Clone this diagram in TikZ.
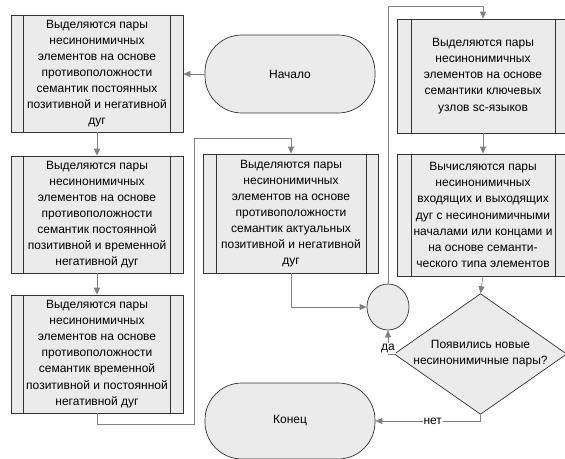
\documentclass[tikz,border=0pt]{standalone}
\usepackage{fontspec}
\setmainfont{Liberation Sans}
\usetikzlibrary{shapes.geometric,arrows.meta}
\definecolor{boxfill}{HTML}{EBEBEB}
\definecolor{edgecol}{HTML}{333333}
\definecolor{conncol}{HTML}{808080}
\begin{document}
\begin{tikzpicture}[x=1pt,y=-1pt,
  base/.style={draw=edgecol, fill=boxfill, line width=0.7pt, inner sep=0pt, align=center,
    font=\fontsize{12}{16.1}\selectfont},
  proc/.style={base, rectangle, minimum width=172pt, minimum height=117pt,
    path picture={\draw[edgecol, line width=0.7pt]
      ([xshift=12.5pt]path picture bounding box.north west) -- ([xshift=12.5pt]path picture bounding box.south west)
      ([xshift=-12.5pt]path picture bounding box.north east) -- ([xshift=-12.5pt]path picture bounding box.south east);}},
  term/.style={base, rectangle, rounded corners=37pt, minimum width=170pt},
  decision/.style={base, diamond, shape aspect=1.43, minimum width=169pt, minimum height=118pt},
  joint/.style={base, ellipse, minimum width=42pt, minimum height=46pt},
  conn/.style={draw=conncol, line width=0.7pt, -{Triangle[length=7pt,width=6pt]}},
  lab/.style={fill=white, inner sep=1pt, font=\fontsize{12}{14}\selectfont}
]
\clip (0,0) rectangle (565,458);
\fill[white] (0,0) rectangle (565,458);

\node[proc] (b1) at (97,73.5) {Выделяются пары\\несинонимичных\\элементов на основе\\противоположности\\семантик постоянных\\позитивной и негативной\\дуг};
\node[proc] (b2) at (97,214.5) {Выделяются пары\\несинонимичных\\элементов на основе\\противоположности\\семантик постоянной\\позитивной и временной\\негативной дуг};
\node[proc, minimum height=118pt] (b3) at (97,354) {Выделяются пары\\несинонимичных\\элементов на основе\\противоположности\\семантик временной\\позитивной и постоянной\\негативной дуг};
\node[proc, minimum width=175pt, minimum height=119pt] (b4) at (291,213.5) {Выделяются пары\\несинонимичных\\элементов на основе\\противоположности\\семантик актуальных\\позитивной и негативной\\дуг};
\node[proc, minimum height=114pt, path picture={\draw[edgecol, line width=0.7pt]
      ([xshift=14pt]path picture bounding box.north west) -- ([xshift=14pt]path picture bounding box.south west)
      ([xshift=-14pt]path picture bounding box.north east) -- ([xshift=-14pt]path picture bounding box.south east);}] (b5) at (483,76) {Выделяются пары\\несинонимичных\\элементов на основе\\семантики ключевых\\узлов sc-языков};
\node[proc, minimum height=122pt, path picture={\draw[edgecol, line width=0.7pt]
      ([xshift=14pt]path picture bounding box.north west) -- ([xshift=14pt]path picture bounding box.south west)
      ([xshift=-14pt]path picture bounding box.north east) -- ([xshift=-14pt]path picture bounding box.south east);}] (b6) at (483,215) {Вычисляются пары\\несинонимичных\\входящих и выходящих\\дуг с несинонимичными\\началами или концами и\\на основе семанти-\\ческого типа элементов};

\node[term, minimum height=78pt] (nach) at (290,74) {Начало};
\node[term, minimum height=76pt] (kon) at (290,421) {Конец};
\node[joint] (circ) at (388,307) {};
\node[decision] (dia) at (480.5,354) {Появились новые\\несинонимичные пары?};

\coordinate (c1) at (194,424);
\coordinate (c2) at (194,138);
\coordinate (top) at (0,6);

\draw[conn] (nach.west) -- (nach.west -| b1.east);
\draw[conn] (b1.south) -- (b2.north);
\draw[conn] (b2.south) -- (b3.north);
\draw[conn] (b3.south) |- (c1) -- (c2) -| (b4.north);
\draw[conn] (b4.south) |- (circ.west);
\draw[conn] (circ.north) -- (circ.north |- top) -| (b5.north);
\draw[conn] (b5.south) -- (b6.north);
\draw[conn] (b6.south) -- (dia.north);
\draw[conn] (dia.west) -| (circ.south);
\node[lab] (da) at (388,348.5) {да};
\draw[conn] (dia.south) |- (kon.east) node[lab, pos=0.727] (net) {нет};
\end{tikzpicture}
\end{document}
